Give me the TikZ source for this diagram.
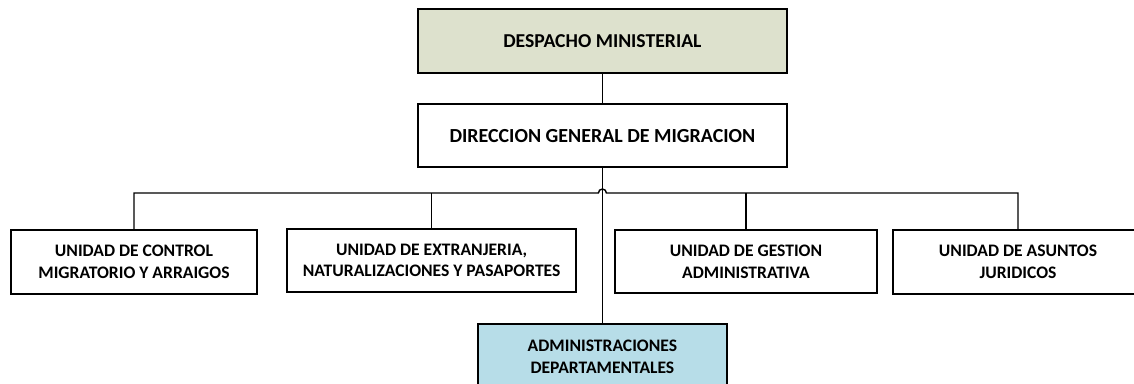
\documentclass[tikz,border=0pt]{standalone}
\usepackage{fontspec}
\setmainfont{Carlito}
\usetikzlibrary{positioning}
\definecolor{vertgris}{RGB}{221,225,205}
\definecolor{bleuclair}{RGB}{183,221,232}
\begin{document}
\begin{tikzpicture}[line width=1pt]
\tikzstyle{boite}=[rectangle,draw,line width=1.2pt,align=center,font=\bfseries\fontsize{12.5}{15.5}\selectfont,inner sep=0pt]
\useasboundingbox (0,0) rectangle (28.35,-9.575);
\node[boite,fill=vertgris,minimum width=9.225cm,minimum height=1.6cm,font=\bfseries\fontsize{14}{16}\selectfont](dm) at (15.06,-1.025) {DESPACHO MINISTERIAL};
\node[boite,minimum width=9.225cm,minimum height=1.575cm,font=\bfseries\fontsize{14.2}{16}\selectfont](dg) at (15.06,-3.39) {DIRECCION GENERAL DE MIGRACION};
\node[boite,minimum width=6.15cm,minimum height=1.6cm](u1) at (3.35,-6.55) {UNIDAD DE CONTROL\\MIGRATORIO Y ARRAIGOS};
\node[boite,minimum width=7.225cm,minimum height=1.575cm](u2) at (10.79,-6.51) {UNIDAD DE EXTRANJERIA,\\NATURALIZACIONES Y PASAPORTES};
\node[boite,minimum width=6.55cm,minimum height=1.575cm](u3) at (18.65,-6.54) {UNIDAD DE GESTION\\ADMINISTRATIVA};
\node[boite,minimum width=6.25cm,minimum height=1.6cm](u4) at (25.45,-6.55) {UNIDAD DE ASUNTOS\\JURIDICOS};
\node[boite,fill=bleuclair,minimum width=6.225cm,minimum height=1.65cm](ad) at (15.06,-8.925) {ADMINISTRACIONES\\DEPARTAMENTALES};
\coordinate (j) at (15.06,-4.825);
\draw (dm) -- (dg);
\draw (dg) -- (ad);
\draw (u1.north) |- ([xshift=-0.1cm]j) arc (180:0:0.1) -| (u4.north);
\draw (u2.north) -- (u2.north |- j);
\draw (u3.north) -- (u3.north |- j);
\end{tikzpicture}
\end{document}
